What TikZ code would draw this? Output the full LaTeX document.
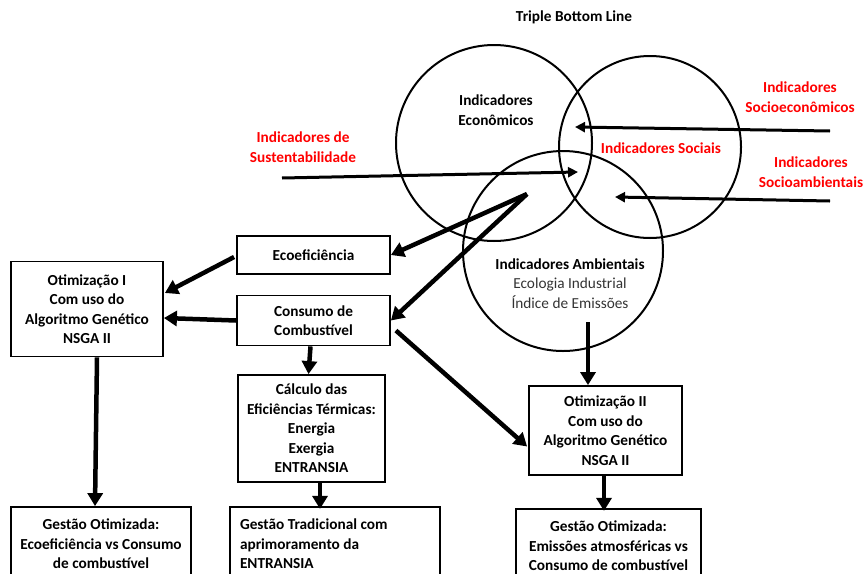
\documentclass[tikz,border=0pt]{standalone}
\usepackage{fontspec}
\setmainfont{Carlito}
\usetikzlibrary{arrows.meta,positioning,calc}
\colorlet{redx}{red}
\newcommand\boxfont{\fontsize{15.3}{19.5}\selectfont}

\tikzset{
  box/.style={draw,line width=1.8pt,inner sep=0pt,align=center,font=\boxfont\bfseries},
  ring/.style={draw,circle,line width=2pt,inner sep=0pt,minimum size=#1},
  lbl/.style={align=center,font=\boxfont\bfseries},
  redlbl/.style={lbl,text=redx},
  bigarrow/.style={line width=4.5pt,-{Triangle[length=13pt,width=15pt]}},
  smallarrow/.style={line width=3pt,-{Triangle[length=10pt,width=10pt]}},
}

\begin{document}
\begin{tikzpicture}[x=1pt,y=-1pt]
            \clip (0,0) rectangle (866,573);
            \useasboundingbox (0,0) rectangle (866,573);

            % the three circles
            \node [ring=196pt] (econ) at (494,143) {};
            \node [ring=182pt] (soc) at (650,147) {};
            \node [ring=200pt] (amb) at (563,251) {};

            \node [lbl] (tbl) at (574,17) {Triple Bottom Line};
            \node [lbl] (econtxt) at (496,110) {Indicadores\\Econômicos};
            \node [redlbl] (soctxt) at (661,148) {Indicadores Sociais};
            \node [lbl] (ambtxt) at (570,264) {Indicadores Ambientais};
            \node [align=center,font=\boxfont,text=black!80] (ambsub) at (570,293)
                {Ecologia Industrial\\Índice de Emissões};

            \node [redlbl] (sust) at (303,147) {Indicadores de\\Sustentabilidade};
            \node [redlbl] (socioeco) at (800,97) {Indicadores\\Socioeconômicos};
            \node [redlbl] (socioamb) at (811,172) {Indicadores\\Socioambientais};

            % boxes
            \node [box,minimum width=153pt,minimum height=38pt] (eco) at (313.5,255) {Ecoeficiência};
            \node [box,minimum width=152pt,minimum height=95pt] (opt1) at (87,309)
                {Otimização I\\Com uso do\\Algoritmo Genético\\NSGA II};
            \node [box,minimum width=153pt,minimum height=50pt] (cons) at (313.5,320.5)
                {Consumo de\\Combustível};
            \node [box,minimum width=147pt,minimum height=107pt] (calc) at (311.5,428.5)
                {Cálculo das\\Eficiências Térmicas:\\Energia\\Exergia\\ENTRANSIA};
            \node [box,minimum width=153pt,minimum height=89pt] (opt2) at (605.5,430.5)
                {Otimização II\\Com uso do\\Algoritmo Genético\\NSGA II};
            \node [box,minimum width=180pt,minimum height=74pt] (gestL) at (101,544)
                {Gestão Otimizada:\\Ecoeficiência vs Consumo\\de combustível};
            \node [box,minimum width=210pt,minimum height=74pt,text width=190pt,align=flush left] (gestT) at (335,544)
                {Gestão Tradicional com\\aprimoramento da\\ENTRANSIA};
            \node [box,minimum width=185pt,minimum height=74pt] (gestR) at (608.5,546)
                {Gestão Otimizada:\\Emissões atmosféricas vs\\Consumo de combustível};

            % free ends
            \coordinate (sustA) at (282,178);
            \coordinate (sustB) at (578,172);
            \coordinate (socioecoA) at (830,131);
            \coordinate (socioecoB) at (575,127);
            \coordinate (socioambA) at (830,201);
            \coordinate (socioambB) at (615,197);
            \coordinate (hub) at (527,194);
            \coordinate (ambout) at (588,322);

            \draw [smallarrow] (sustA) -- (sustB);
            \draw [smallarrow] (socioecoA) -- (socioecoB);
            \draw [smallarrow] (socioambA) -- (socioambB);

            \draw [bigarrow] (hub) -- (eco.east);
            \draw [bigarrow] (hub) -- (cons.east);
            \draw [bigarrow] ($(eco.west)+(-2,2)$) -- ($(opt1.east)+(1,-16)$);
            \draw [bigarrow] (cons.west) -- ($(opt1.east)+(0,9)$);
            \draw [bigarrow] ($(cons.east)+(5,10)$) -- ($(opt2.west)+(-1,16)$);
            \draw [bigarrow] ($(cons.south)+(-3,0)$) -- ($(calc.north)+(-3,0)$);
            \draw [bigarrow] ($(opt1.south)+(10,0)$) -- ($(gestL.north)+(-6,0)$);
            \draw [bigarrow] ($(calc.south)+(8.5,0)$) -- ($(calc.south)+(8.5,26)$);
            \draw [bigarrow] (ambout) -- (ambout |- opt2.north);
            \draw [bigarrow] ($(opt2.south)+(-1.5,0)$) -- ($(opt2.south)+(-1.5,35)$);
        \end{tikzpicture}
\end{document}
